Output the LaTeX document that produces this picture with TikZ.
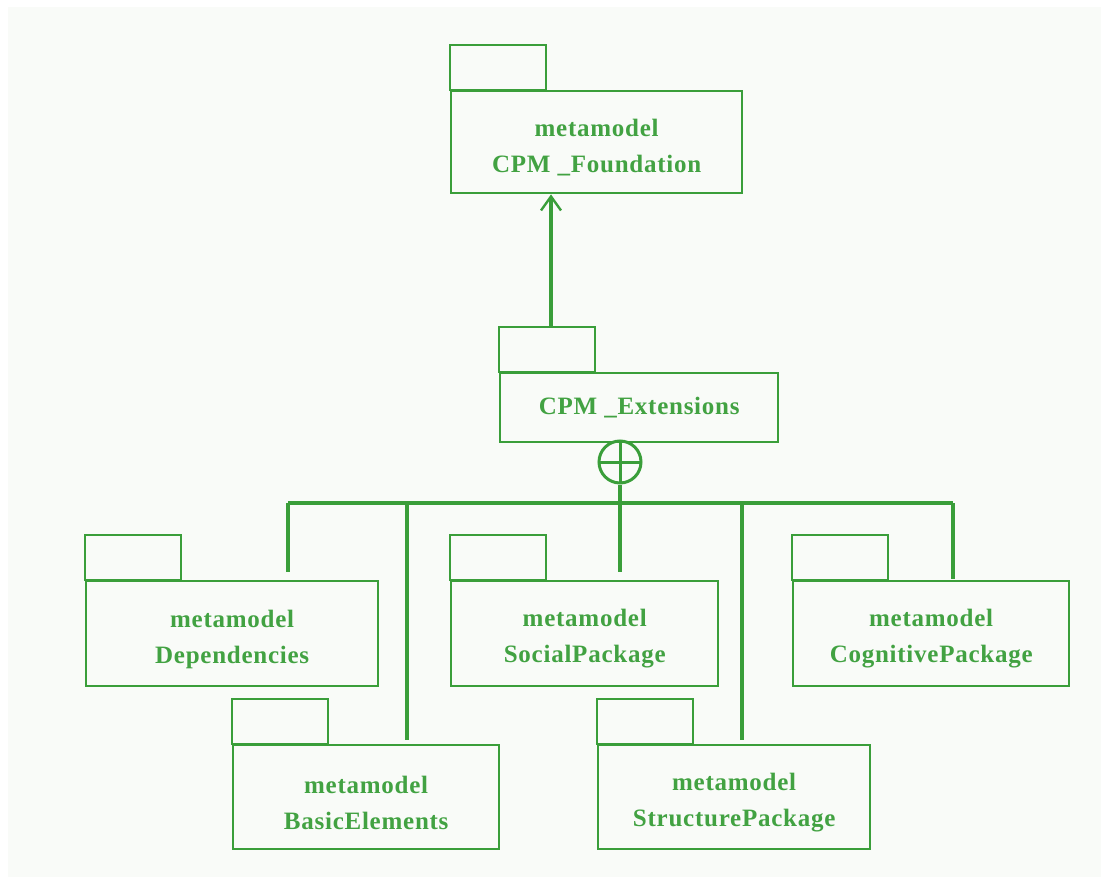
\documentclass[tikz,border=0pt]{standalone}
\usepackage{fontspec}
\usetikzlibrary{arrows.meta}
\newfontfamily\umlfont[LetterSpace=3]{Liberation Serif}
\definecolor{umlgreen}{RGB}{58,158,58}
\definecolor{umltext}{RGB}{66,162,66}
\definecolor{umlpaper}{RGB}{249,251,248}
\newcommand\pkgtabwidth{96}
\newcommand\pkgtabheight{45}
\newcommand\pkgstrut{\rule{0pt}{28pt}}
\tikzset{
  pkgline/.style={draw=umlgreen, line width=2.4pt},
  pkgbody/.style={pkgline, anchor=north west, inner sep=0pt, align=center,
    text=umltext, font=\umlfont\bfseries\fontsize{25}{36}\selectfont},
  wire/.style={draw=umlgreen, line width=3.2pt},
}
% tab on top of a package body
\newcommand\pkgtab[1]{
  \draw[pkgline] (#1.north west) rectangle ++(\pkgtabwidth, -\pkgtabheight) ;
}

\begin{document}
\begin{tikzpicture}[x=1pt, y=-1pt]
  \useasboundingbox (0,0) rectangle (1101,886) ;
  \fill[umlpaper] (8,7) rectangle (1101,877) ;

  % packages
  \node[pkgbody, minimum width=291, minimum height=102] (found) at (450,90) {\pkgstrut metamodel\\CPM \_Foundation} ;
  \node[pkgbody, minimum width=278, minimum height=69] (ext) at (499,372) {CPM \_Extensions} ;
  \node[pkgbody, minimum width=292, minimum height=105] (dep) at (85,580) {\pkgstrut metamodel\\Dependencies} ;
  \node[pkgbody, minimum width=267, minimum height=105] (soc) at (450,580) {\pkgstrut metamodel\\SocialPackage} ;
  \node[pkgbody, minimum width=276, minimum height=105] (cog) at (792,580) {\pkgstrut metamodel\\CognitivePackage} ;
  \node[pkgbody, minimum width=266, minimum height=104] (bas) at (232,744) {\pkgstrut metamodel\\BasicElements} ;
  \node[pkgbody, minimum width=272, minimum height=104] (str) at (597,744) {\pkgstrut metamodel\\StructurePackage} ;
  \pkgtab{found}
  \pkgtab{ext}
  \pkgtab{dep}
  \pkgtab{soc}
  \pkgtab{cog}
  \pkgtab{bas}
  \pkgtab{str}

  % import arrow
  \coordinate (extTop) at (551,327) ;
  \draw[wire, -{Straight Barb[length=14pt, width=20pt, line width=2.4pt]}] (extTop) -- (extTop |- found.south) ;

  % containment
  \node[circle, draw=umlgreen, line width=3pt, minimum size=42pt, inner sep=0pt,
    path picture={
      \draw[umlgreen, line width=3pt] (path picture bounding box.north) -- (path picture bounding box.south) ;
      \draw[umlgreen, line width=3pt] (path picture bounding box.west) -- (path picture bounding box.east) ;
    }] (cplus) at (620,462) {} ;
  \coordinate (busL) at (288,503) ;
  \coordinate (busB) at (407,503) ;
  \coordinate (busS) at (742,503) ;
  \coordinate (busR) at (953,503) ;
  \draw[wire] (busL) -- (busR) ;
  \draw[wire, shorten >=8pt] (busL) -- (busL |- dep.north) ;
  \draw[wire, shorten >=4pt] (busB) -- (busB |- bas.north) ;
  \draw[wire, shorten >=8pt] (cplus.south) -- (cplus.south |- soc.north) ;
  \draw[wire, shorten >=4pt] (busS) -- (busS |- str.north) ;
  \draw[wire, shorten >=1pt] (busR) -- (busR |- cog.north) ;
\end{tikzpicture}
\end{document}
